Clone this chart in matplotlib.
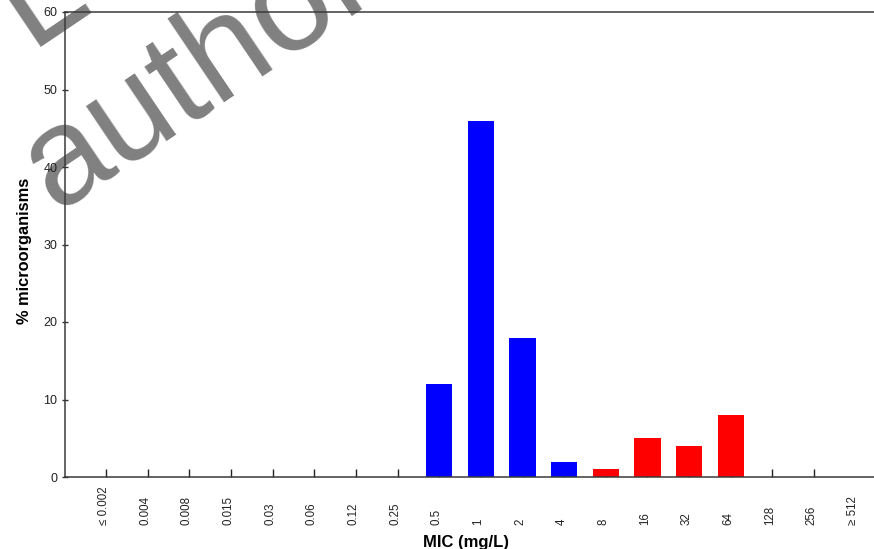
import matplotlib
matplotlib.use("Agg")
import matplotlib.pyplot as plt
import matplotlib.transforms as mtransforms

# ---- data ----
categories = ["\u2264 0.002", "0.004", "0.008", "0.015", "0.03", "0.06", "0.12", "0.25",
              "0.5", "1", "2", "4", "8", "16", "32", "64", "128", "256", "\u2265 512"]
percent = [0, 0, 0, 0, 0, 0, 0, 0, 12, 46, 18, 2, 1, 5, 4, 8, 0, 0, 0]
bar_colors = ["#0000ff"] * 12 + ["#ff0000"] * 7   # blue up to 4 mg/L, red from 8 mg/L
y_ticks = [0, 10, 20, 30, 40, 50, 60]

plt.rcParams['font.family'] = ['Liberation Sans', 'DejaVu Sans']

W, H = 874, 549
fig = plt.figure(figsize=(W / 100, H / 100), dpi=100)

# watermark (behind the axes)
wm_color = "#808080"
fig.text(30 / W, 1 - 47 / H, "L", fontsize=100, color=wm_color, rotation=34,
         rotation_mode='anchor', ha='left', va='baseline', zorder=-5)
fig.text(56 / W, 1 - 212 / H, "author", fontsize=100, color=wm_color, rotation=34,
         rotation_mode='anchor', ha='left', va='baseline', zorder=-5)

ax = fig.add_axes([65 / W, 1 - 477 / H, (W - 65) / W, (477 - 12) / H])
ax.set_facecolor('none')

x = list(range(len(categories)))
ax.bar(x, percent, width=0.63, color=bar_colors, edgecolor='none', zorder=2)

ax.set_ylim(0, 60)
ax.set_xlim(-0.99, 18.44)
ax.set_yticks(y_ticks)
ax.set_yticklabels([str(v) for v in y_ticks], fontsize=9, color='#222222')

ax.set_xticks(x)
ax.set_xticklabels([])
ax.tick_params(axis='x', direction='in', length=6, width=1, color='#222222')
ax.tick_params(axis='y', direction='inout', length=5, width=1, color='#333333', pad=3)
ax.xaxis.get_major_ticks()[-1].tick1line.set_visible(False)

spine_c = '#3a3a3a'
for s in ['left', 'bottom', 'top']:
    ax.spines[s].set_color(spine_c)
    ax.spines[s].set_linewidth(1.1)
ax.spines['right'].set_visible(False)

trans = mtransforms.blended_transform_factory(ax.transData, ax.transAxes)
y_lab = (477 - 525) / (477 - 12)
for xi, lab in zip(x, categories):
    ax.text(xi - 0.06, y_lab, lab, rotation=90, ha='center', va='bottom',
            fontsize=8.3, color='#222222', transform=trans)

fig.text(466 / W, 2.5 / H, "MIC (mg/L)", fontsize=12, fontweight='bold',
         ha='center', va='baseline', color='black')
fig.text(25 / W, 1 - 251 / H, "% microorganisms", fontsize=11.8, fontweight='bold',
         rotation=90, ha='center', va='center', color='black')

fig.savefig("out.png", dpi=100)
